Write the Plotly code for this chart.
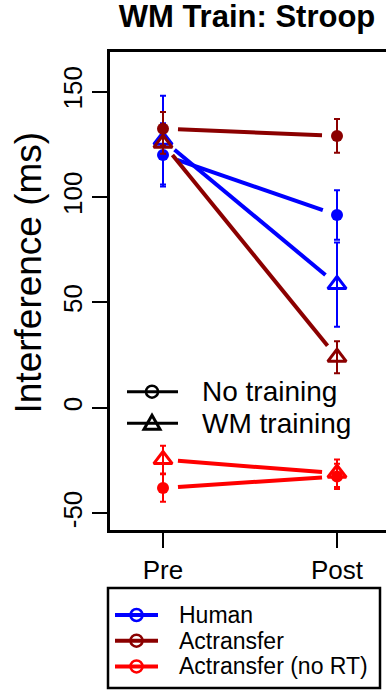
import math
import plotly.graph_objects as go

# ---------------- data ----------------
phases = ["Pre", "Post"]
phase_pos = [1, 2]
y_ticks = [-50, 0, 50, 100, 150]

human_none = [120.0, 91.5]
human_none_err = [15.0, 11.7]
human_wm = [127.0, 58.5]
human_wm_err = [21.0, 20.0]

act_none = [132.4, 129.0]
act_none_err = [8.0, 8.0]
act_wm = [125.5, 24.0]
act_wm_err = [5.0, 7.6]

nort_none = [-38.0, -32.5]
nort_none_err = [6.5, 6.0]
nort_wm = [-24.5, -31.0]
nort_wm_err = [6.6, 6.5]

models = ["Human", "Actransfer", "Actransfer (no RT)"]
model_colors = ["#0000FF", "#8B0000", "#FF0000"]
conditions = ["No training", "WM training"]

# ---------------- layout constants ----------------
W, H = 386, 690
ML, MT, MB, MR = 110, 52, 160, 0
PW, PH = W - ML - MR, H - MT - MB
X_RANGE = [1 - 53 / 174, 1 + (PW - 53) / 174]
Y_RANGE = [-57.9, 168.8]
GAP = 15  # px gap between line ends and points (R type="b")
FONT = "Liberation Sans, Arial, Helvetica, sans-serif"

px_x = PW / (X_RANGE[1] - X_RANGE[0])
px_y = PH / (Y_RANGE[1] - Y_RANGE[0])


def px2paper(px, py):
    return (px - ML) / PW, (MT + PH - py) / PH


def gapped(y):
    dx = (phase_pos[1] - phase_pos[0]) * px_x
    dy = (y[1] - y[0]) * px_y
    f = GAP / math.hypot(dx, dy)
    xs = [phase_pos[0] + f * (phase_pos[1] - phase_pos[0]),
          phase_pos[1] - f * (phase_pos[1] - phase_pos[0])]
    ys = [y[0] + f * (y[1] - y[0]), y[1] - f * (y[1] - y[0])]
    return xs, ys


fig = go.Figure()

series = [
    (model_colors[0], human_none, human_none_err, human_wm, human_wm_err),
    (model_colors[1], act_none, act_none_err, act_wm, act_wm_err),
    (model_colors[2], nort_none, nort_none_err, nort_wm, nort_wm_err),
]

for color, yn, en, yw, ew in series:
    for y in (yn, yw):
        xs, ys = gapped(y)
        fig.add_trace(go.Scatter(x=xs, y=ys, mode="lines",
                                 line=dict(color=color, width=4),
                                 showlegend=False, hoverinfo="skip"))
    fig.add_trace(go.Scatter(
        x=phase_pos, y=yw, mode="markers", showlegend=False,
        marker=dict(symbol="triangle-up-open", size=16, color=color,
                    line=dict(width=3, color=color)),
        error_y=dict(type="data", array=ew, color=color, thickness=2, width=3)))
    fig.add_trace(go.Scatter(
        x=phase_pos, y=yn, mode="markers", showlegend=False,
        marker=dict(symbol="circle", size=12, color=color),
        error_y=dict(type="data", array=en, color=color, thickness=2, width=3)))

shapes = []
annotations = []


def legend_key(cx, cy, x0, x1, color, lw, kind, text, fsize, tx):
    a0, b = px2paper(x0, cy)
    a1, _ = px2paper(x1, cy)
    shapes.append(dict(type="line", xref="paper", yref="paper", x0=a0, x1=a1,
                       y0=b, y1=b, line=dict(color=color, width=lw)))
    ax, ay = px2paper(cx, cy)
    if kind == "circle":
        r = 6
        shapes.append(dict(type="circle", xref="paper", yref="paper",
                           xsizemode="pixel", ysizemode="pixel", xanchor=ax, yanchor=ay,
                           x0=-r, x1=r, y0=-r, y1=r,
                           line=dict(color=color, width=2.5)))
    else:
        shapes.append(dict(type="path", xref="paper", yref="paper",
                           xsizemode="pixel", ysizemode="pixel", xanchor=ax, yanchor=ay,
                           path="M -8 -6 L 8 -6 L 0 8 Z",
                           line=dict(color=color, width=3)))
    t, _ = px2paper(tx, cy)
    annotations.append(dict(text=text, showarrow=False, xref="paper", yref="paper",
                            x=t, y=ay, xanchor="left", yanchor="middle",
                            font=dict(size=fsize, family=FONT, color="black")))


# condition legend (inside plot)
for i, (name, kind) in enumerate(zip(conditions, ["circle", "triangle"])):
    legend_key(152, 391.7 + i * 31.6, 127, 178, "black", 3, kind, name, 28, 200)

# model legend (below plot)
bx0, by0 = px2paper(108, 588)
bx1, by1 = px2paper(380, 688)
shapes.append(dict(type="rect", xref="paper", yref="paper", x0=bx0, x1=bx1,
                   y0=by1, y1=by0, line=dict(color="black", width=2.5),
                   fillcolor="rgba(0,0,0,0)"))
for i, (name, color) in enumerate(zip(models, model_colors)):
    legend_key(136.5, 615 + i * 25.7, 115, 158, color, 4, "circle", name, 23, 177)

ax_t, ay_t = px2paper(28, 272.5)
annotations.append(dict(text="Interference (ms)", textangle=-90, showarrow=False,
                        xref="paper", yref="paper", x=ax_t, y=ay_t,
                        xanchor="center", yanchor="middle",
                        font=dict(size=37, family=FONT, color="black")))

fig.update_layout(
    width=W, height=H,
    margin=dict(l=ML, r=MR, t=MT, b=MB, pad=0),
    paper_bgcolor="white", plot_bgcolor="white",
    showlegend=False,
    font=dict(family=FONT, color="black"),
    title=dict(text="<b>WM Train: Stroop</b>", font=dict(size=31, family=FONT),
               xref="container", x=247 / W, xanchor="center",
               yref="container", y=1 - 27 / H, yanchor="bottom"),
    xaxis=dict(range=X_RANGE, tickvals=phase_pos, ticktext=phases,
               showgrid=False, zeroline=False, showline=True, linecolor="black",
               linewidth=3, mirror=True, ticks="outside", ticklen=15, tickwidth=2,
               tickcolor="black", tickfont=dict(size=26)),
    yaxis=dict(range=Y_RANGE, tickvals=y_ticks, ticktext=[str(v) for v in y_ticks],
               showgrid=False, zeroline=False, showline=True, linecolor="black",
               linewidth=3, mirror=False, ticks="outside", ticklen=15, tickwidth=2,
               tickcolor="black", tickangle=-90, tickfont=dict(size=26)),
    shapes=shapes,
    annotations=annotations,
)

fig.write_html("out.html")
